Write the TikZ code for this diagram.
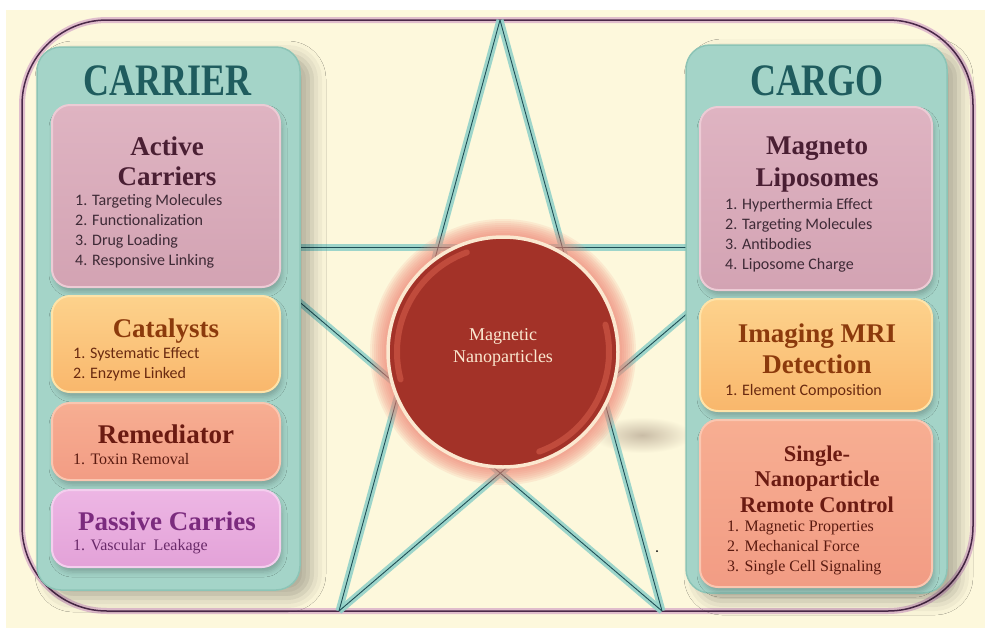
\documentclass[tikz,border=0pt]{standalone}
\usepackage{fontspec}
\usepackage{graphicx}
\setmainfont{Liberation Serif}
\newfontfamily\listfont{Carlito}
\usetikzlibrary{shadows.blur}

\definecolor{cream}{HTML}{FDF8DC}
\definecolor{framedark}{HTML}{4A2848}
\definecolor{frameglow}{HTML}{D9AFC8}
\definecolor{starglowc}{HTML}{93D2C9}
\definecolor{stardark}{HTML}{1F4E55}
\definecolor{panelteal}{HTML}{A4D4C8}
\definecolor{paneledge}{HTML}{8CC4B6}
\definecolor{headteal}{HTML}{1F5C5E}
\definecolor{mauvetop}{HTML}{DFB4C2}
\definecolor{mauvebot}{HTML}{D3A3B3}
\definecolor{mauverim}{HTML}{ECCBD5}
\definecolor{orangetop}{HTML}{FDD28C}
\definecolor{orangebot}{HTML}{F9B76C}
\definecolor{orangerim}{HTML}{FEE3A8}
\definecolor{salmontop}{HTML}{F7AE92}
\definecolor{salmonbot}{HTML}{F29C84}
\definecolor{salmonrim}{HTML}{FAC6B0}
\definecolor{violettop}{HTML}{EDB6E4}
\definecolor{violetbot}{HTML}{E3A2D8}
\definecolor{violetrim}{HTML}{F4CEEE}
\definecolor{ttlmauve}{HTML}{4A1F33}
\definecolor{ttlorange}{HTML}{8C3A0C}
\definecolor{ttlsalmon}{HTML}{6B1B12}
\definecolor{ttlviolet}{HTML}{7B2B7E}
\definecolor{txtmauve}{HTML}{3E2A36}
\definecolor{txtorange}{HTML}{6A2A10}
\definecolor{txtsalmon}{HTML}{5A1A10}
\definecolor{txtviolet}{HTML}{6A2A6A}
\definecolor{nanored}{HTML}{A33228}
\definecolor{nanobevel}{HTML}{D8604E}
\definecolor{rimcream}{HTML}{FBE8D0}
\definecolor{glowred}{HTML}{F08070}
\definecolor{shadowgrey}{HTML}{C9BCA6}

\begin{document}
\begin{tikzpicture}[x=1pt,y=-1pt,
  frameglowline/.style={draw=frameglow, line width=6pt, rounded corners=85pt},
  framelineline/.style={draw=framedark, line width=1.5pt, rounded corners=85pt},
  starglow/.style={draw=starglowc, line width=7pt, opacity=0.9},
  starline/.style={draw=stardark, line width=0.9pt},
  panel/.style={rectangle, rounded corners=24pt, fill=panelteal, draw=paneledge,
    line width=1.5pt,
    blur shadow={shadow xshift=12pt, shadow yshift=-8pt, shadow blur radius=14pt,
      shadow opacity=30}},
  box/.style={rectangle, rounded corners=18pt, minimum width=228pt, line width=2pt,
    blur shadow={shadow xshift=2pt, shadow yshift=-5pt, shadow blur radius=5pt,
      shadow opacity=22}},
  mauvebox/.style={box, top color=mauvetop, bottom color=mauvebot, draw=mauverim},
  orangebox/.style={box, top color=orangetop, bottom color=orangebot, draw=orangerim},
  salmonbox/.style={box, top color=salmontop, bottom color=salmonbot, draw=salmonrim},
  violetbox/.style={box, top color=violettop, bottom color=violetbot, draw=violetrim},
  headline/.style={inner sep=0pt, anchor=base, text=headteal,
    font=\fontsize{45}{45}\selectfont\bfseries},
  title/.style={inner sep=0pt, anchor=base, font=\fontsize{27}{30}\selectfont\bfseries},
  smalltitle/.style={inner sep=0pt, anchor=base, font=\fontsize{22.5}{25}\selectfont\bfseries},
  item/.style={inner sep=0pt, anchor=base west, font=\listfont\fontsize{16}{20}\selectfont},
  sitem/.style={inner sep=0pt, anchor=base west, font=\fontsize{16}{20}\selectfont},
  coretext/.style={inner sep=0pt, anchor=base, text=rimcream, font=\fontsize{18}{22}\selectfont},
  bevel/.style={draw=nanobevel, line width=6pt, line cap=round, opacity=0.55}
]
\useasboundingbox (0,0) rectangle (985,635);

% page and cream background
\fill[white] (0,0) rectangle (985,635);
\fill[cream] (6,10) rectangle (985,628);

% outer rounded frame
\draw[frameglowline, opacity=0.8] (22,20) rectangle (973,611);
\draw[framelineline] (22,20) rectangle (973,611);

% soft shadow cast by the core sphere
\shade[inner color=shadowgrey, outer color=cream] (642,435) ellipse (50pt and 18pt);

% pentagram vertices
\coordinate (T)  at (500,20);
\coordinate (BL) at (339,611);
\coordinate (BR) at (662,611);
\coordinate (L)  at (235,247);
\coordinate (R)  at (765,247);

\foreach \a/\b in {T/BL, T/BR, L/R, L/BR, R/BL}
  \draw[starglow] (\a) -- (\b);
\foreach \a/\b in {T/BL, T/BR, L/R, L/BR, R/BL}
  \draw[starline] (\a) -- (\b);

% side panels
\node[panel, minimum width=263pt, minimum height=543pt] (carrier) at (168.5,318.5) {};
\node[panel, minimum width=261pt, minimum height=548pt] (cargo) at (816.5,319) {};

\node[headline] (carrierhead) at (168,95) {\scalebox{0.8}[1]{CARRIER}};
\node[headline] (cargohead) at (817,95) {\scalebox{0.8}[1]{CARGO}};

% carrier boxes
\node[mauvebox, minimum height=182pt] (active) at (166,196) {};
\node[orangebox, minimum height=96pt] (catal) at (166,344) {};
\node[salmonbox, minimum height=77pt] (remed) at (166,441.5) {};
\node[violetbox, minimum height=77pt] (passive) at (166,528.5) {};

% cargo boxes
\node[mauvebox, minimum width=232pt, minimum height=183pt] (magneto) at (816,198.5) {};
\node[orangebox, minimum width=232pt, minimum height=112pt] (imaging) at (816,355) {};
\node[salmonbox, minimum width=232pt, minimum height=167pt] (single) at (816,503.5) {};

% carrier texts
\node[title, text=ttlmauve] (active-t1) at (167,155) {Active};
\node[title, text=ttlmauve] (active-t2) at (167,185) {Carriers};
\foreach \t [count=\i] in {1. Targeting Molecules, 2. Functionalization, 3. Drug Loading, 4. Responsive Linking}
  \node[item, text=txtmauve] (active-\i) at (75,185+20*\i) {\t};

\node[title, text=ttlorange] (catal-t) at (166,337) {Catalysts};
\foreach \t [count=\i] in {1. Systematic Effect, 2. Enzyme Linked}
  \node[item, text=txtorange] (catal-\i) at (73,338+20*\i) {\t};

\node[title, text=ttlsalmon] (remed-t) at (166,443) {Remediator};
\node[sitem, text=txtsalmon] (remed-1) at (73,464) {1. Toxin Removal};

\node[title, text=ttlviolet] (passive-t) at (167,530) {Passive Carries};
\node[sitem, text=txtviolet] (passive-1) at (73,550) {1. Vascular~~Leakage};

% cargo texts
\node[title, text=ttlmauve] (magneto-t1) at (817,154) {Magneto};
\node[title, text=ttlmauve] (magneto-t2) at (817,186) {Liposomes};
\foreach \t [count=\i] in {1. Hyperthermia Effect, 2. Targeting Molecules, 3. Antibodies, 4. Liposome Charge}
  \node[item, text=txtmauve] (magneto-\i) at (725,189+20*\i) {\t};

\node[title, text=ttlorange] (imaging-t1) at (817,342) {Imaging MRI};
\node[title, text=ttlorange] (imaging-t2) at (817,373) {Detection};
\node[item, text=txtorange] (imaging-1) at (725,395) {1. Element Composition};

\node[smalltitle, text=ttlsalmon] (single-t1) at (817,461) {Single-};
\node[smalltitle, text=ttlsalmon] (single-t2) at (817,486.5) {Nanoparticle};
\node[smalltitle, text=ttlsalmon] (single-t3) at (817,512) {Remote Control};
\foreach \t [count=\i] in {1. Magnetic Properties, 2. Mechanical Force, 3. Single Cell Signaling}
  \node[sitem, text=txtsalmon] (single-\i) at (727,511+20*\i) {\t};

% magnetic nanoparticle core
\coordinate (C) at (503,352);
\foreach \r in {133,131,...,117}
  \fill[glowred, opacity=0.12] (C) circle (\r pt);
\node[circle, minimum size=230pt, inner sep=0pt, fill=nanored, draw=rimcream, line width=3.5pt] (np) at (C) {};
% inner bevel highlights (upper left and lower right)
\draw[bevel] (np.center) ++(165:106) arc[start angle=165, end angle=250, radius=106];
\draw[bevel] (np.center) ++(-15:106) arc[start angle=-15, end angle=70, radius=106];
\node[coretext] (np-t1) at (503,340) {Magnetic};
\node[coretext] (np-t2) at (503,362) {Nanoparticles};

% small speck
\fill[black] (657,551) circle (1pt);
\end{tikzpicture}
\end{document}
